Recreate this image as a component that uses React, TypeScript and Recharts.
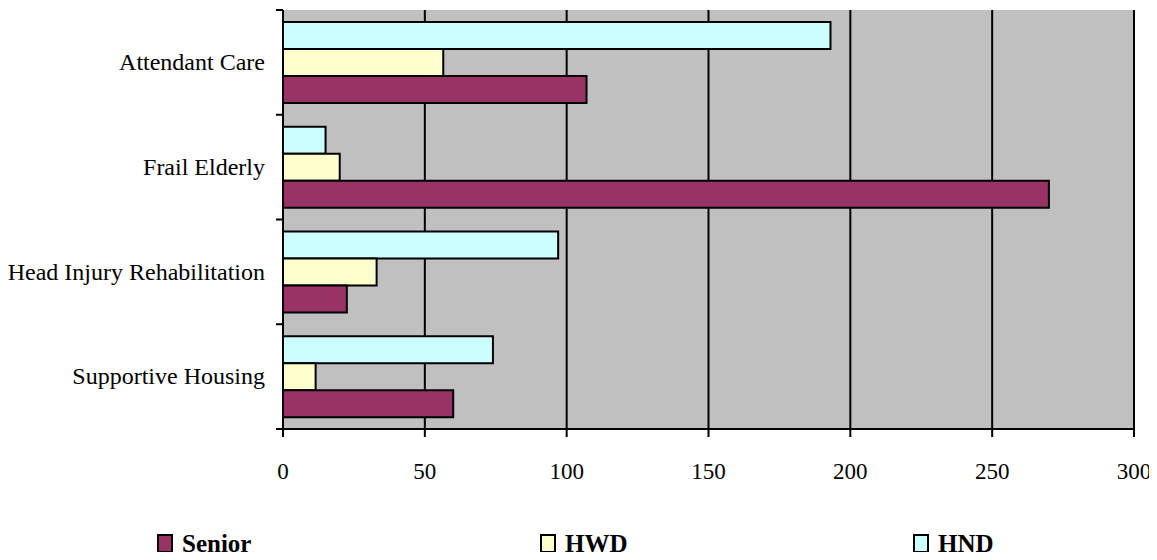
import React from 'react';
import { BarChart, Bar, XAxis, YAxis, CartesianGrid } from 'recharts';

const categories = ['Attendant Care', 'Frail Elderly', 'Head Injury Rehabilitation', 'Supportive Housing'];
const seniorValues = [107, 270, 22.5, 60];
const hwdValues = [56.5, 20, 33, 11.5];
const hndValues = [193, 15, 97, 74];
const xTicks = [0, 50, 100, 150, 200, 250, 300];

// bar order top->bottom inside a band is HND, HWD, Senior; legend is the other way round
const series = [
  { key: 'HND', values: hndValues, color: '#CCFFFF' },
  { key: 'HWD', values: hwdValues, color: '#FFFFCC' },
  { key: 'Senior', values: seniorValues, color: '#993366' },
];
const legendOrder = ['Senior', 'HWD', 'HND'];
const legendLeft = [149, 532, 905];

const data = categories.map((name, i) => {
  const row: Record<string, any> = { name };
  series.forEach(s => {
    row[s.key] = s.values[i];
  });
  return row;
});

const CHART_W = 1149;
const CHART_H = 500;
const MARGIN = { top: 2, right: 23, bottom: 0, left: 0 };
const YAXIS_W = 275;
const XAXIS_H = 79;
const AXIS_X = MARGIN.left + YAXIS_W;
const BAND = (CHART_H - MARGIN.top - MARGIN.bottom - XAXIS_H) / categories.length;
const FONT = '"Liberation Serif", "Times New Roman", serif';

function CategoryTick(props: any) {
  const { y, payload, index } = props;
  const half = BAND / 2;
  return (
    <g>
      <line x1={AXIS_X - 7} x2={AXIS_X} y1={y - half} y2={y - half} stroke="#000" strokeWidth={2} />
      {index === categories.length - 1 && (
        <line x1={AXIS_X - 7} x2={AXIS_X} y1={y + half} y2={y + half} stroke="#000" strokeWidth={2} />
      )}
      <text x={AXIS_X - 18} y={y} dy="0.32em" textAnchor="end" fontFamily={FONT} fontSize={24} fill="#000">
        {payload.value}
      </text>
    </g>
  );
}

export default function App() {
  const colorOf = (k: string) => series.find(s => s.key === k)!.color;
  return (
    <div style={{ position: 'relative', width: CHART_W, height: 544 }}>
      <BarChart
        width={CHART_W}
        height={CHART_H}
        data={data}
        layout="vertical"
        margin={MARGIN}
        barGap={0}
        barSize={27}
      >
        <CartesianGrid
          horizontal={false}
          stroke="#000"
          strokeWidth={2}
          fill="#C0C0C0"
          fillOpacity={1}
        />
        {series.map(s => (
          <Bar
            key={s.key}
            dataKey={s.key}
            fill={s.color}
            stroke="#000"
            strokeWidth={2}
            isAnimationActive={false}
          />
        ))}
        <XAxis
          type="number"
          domain={[0, 300]}
          ticks={xTicks}
          interval={0}
          height={XAXIS_H}
          axisLine={{ stroke: '#000', strokeWidth: 2 }}
          tickLine={{ stroke: '#000', strokeWidth: 2 }}
          tickSize={8}
          tickMargin={26}
          tick={{ fill: '#000', fontSize: 23, fontFamily: FONT }}
        />
        <XAxis
          xAxisId="top"
          orientation="top"
          type="number"
          domain={[0, 300]}
          height={0}
          tick={false}
          tickLine={false}
          axisLine={{ stroke: '#808080', strokeWidth: 3 }}
        />
        <YAxis
          type="category"
          dataKey="name"
          width={YAXIS_W}
          axisLine={{ stroke: '#000', strokeWidth: 2 }}
          tickLine={false}
          tick={<CategoryTick />}
          interval={0}
        />
        <YAxis
          yAxisId="right"
          orientation="right"
          type="category"
          dataKey="name"
          width={0}
          tick={false}
          tickLine={false}
          axisLine={{ stroke: '#808080', strokeWidth: 3 }}
        />
      </BarChart>
      <div style={{ position: 'absolute', left: 0, top: 526, width: CHART_W, height: 18 }}>
        {legendOrder.map((k, i) => (
          <div
            key={k}
            style={{
              position: 'absolute',
              left: legendLeft[i],
              top: 0,
              display: 'flex',
              alignItems: 'center',
              height: 19,
            }}
          >
            <span
              style={{
                display: 'inline-block',
                width: 12,
                height: 15,
                background: colorOf(k),
                border: '2px solid #000',
                marginRight: 9,
              }}
            />
            <span style={{ fontFamily: FONT, fontWeight: 'bold', fontSize: 25, lineHeight: '19px', color: '#000' }}>
              {k}
            </span>
          </div>
        ))}
      </div>
    </div>
  );
}
